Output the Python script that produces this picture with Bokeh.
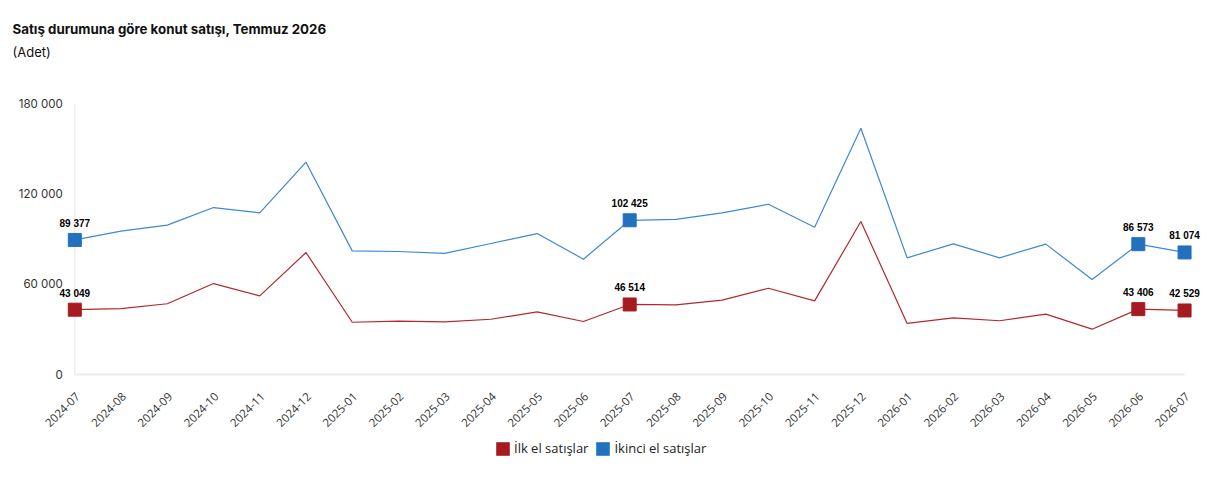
import math
from bokeh.plotting import figure
from bokeh.models import (ColumnDataSource, Range1d, Label, Legend, LegendItem,
                          LabelSet)
from bokeh.core.properties import value
from bokeh.embed import file_html
from bokeh.resources import INLINE

months = ["2024-07", "2024-08", "2024-09", "2024-10", "2024-11", "2024-12",
          "2025-01", "2025-02", "2025-03", "2025-04", "2025-05", "2025-06",
          "2025-07", "2025-08", "2025-09", "2025-10", "2025-11", "2025-12",
          "2026-01", "2026-02", "2026-03", "2026-04", "2026-05", "2026-06",
          "2026-07"]
ilk_el = [43049, 43800, 47000, 60400, 52200, 81000, 34700, 35400, 35000,
          36700, 41600, 35200, 46514, 46300, 49400, 57300, 48900, 101600,
          33900, 37600, 35700, 40100, 30100, 43406, 42529]
ikinci_el = [89377, 95200, 99200, 110900, 107400, 141000, 82100, 81700, 80400,
             87000, 93600, 76600, 102425, 103000, 107400, 113100, 97800, 163600,
             77500, 86800, 77500, 86600, 63100, 86573, 81074]
highlight = [0, 12, 23, 24]
y_ticks = [0, 60000, 120000, 180000]
y_tick_labels = ["0", "60 000", "120 000", "180 000"]

series_names = ["İlk el satışlar", "İkinci el satışlar"]
line_colors = ["#b3282d", "#3d89d2"]
marker_colors = ["#a51b1f", "#2271be"]

title_text = "Satış durumuna göre konut satışı, Temmuz 2026"
subtitle_text = "(Adet)"


def fmt(v):
    return f"{v:,}".replace(",", " ")


# ---- layout geometry (pixels) ----
W, H = 1217, 472
X0_PX, DX_PX = 74.3, 46.24          # pixel of first month, pixels per month
Y0_PX, YTOP_PX = 374.0, 103.0       # pixel of 0 and of the top tick
px_per_unit = (Y0_PX - YTOP_PX) / y_ticks[-1]

xs = list(range(len(months)))
x_range = Range1d(-X0_PX / DX_PX, (W - X0_PX) / DX_PX)
y_range = Range1d(-(H - Y0_PX) / px_per_unit, Y0_PX / px_per_unit)

p = figure(width=W, height=H, output_backend="svg", toolbar_location=None,
           x_range=x_range, y_range=y_range,
           x_axis_location=None, y_axis_location=None,
           min_border=0, min_border_left=0, min_border_right=0,
           min_border_top=0, min_border_bottom=0)
p.outline_line_color = None
p.grid.visible = False
p.background_fill_color = "white"
p.border_fill_color = "white"

# titles
p.add_layout(Label(x=12, y=H - 28.5, x_units="screen", y_units="screen",
                   text=title_text, text_font="Inter", text_font_size="13.3px",
                   text_font_style="bold", text_color="#111111",
                   text_baseline="alphabetic"))
p.add_layout(Label(x=12, y=H - 51.5, x_units="screen", y_units="screen",
                   text=subtitle_text, text_font="Inter", text_font_size="13px",
                   text_color="#111111", text_baseline="alphabetic"))

# axis rules
p.segment(x0=[xs[0]], y0=[y_ticks[0]], x1=[xs[0]], y1=[y_ticks[-1]],
          line_color="#e6e6e6", line_width=1)
p.segment(x0=[xs[0]], y0=[y_ticks[0]], x1=[xs[-1]], y1=[y_ticks[0]],
          line_color="#ebebeb", line_width=2)

# y tick labels
ysrc = ColumnDataSource(dict(x=[xs[0]] * len(y_ticks), y=y_ticks,
                             t=y_tick_labels))
p.add_layout(LabelSet(x="x", y="y", text="t", source=ysrc, x_offset=-12,
                      text_align="right", text_baseline="middle",
                      text_font=value("Inter"), text_font_size="11.5px",
                      text_color="#333333"))

# x tick labels
xsrc = ColumnDataSource(dict(x=xs, y=[y_ticks[0]] * len(xs), t=months))
p.add_layout(LabelSet(x="x", y="y", text="t", source=xsrc, angle=math.pi / 4,
                      x_offset=3, y_offset=-20, text_align="right",
                      text_baseline="middle", text_font=value("Open Sans"),
                      text_font_size="11.5px", text_color="#333333"))

items = []
for name, vals, lc, mc in zip(series_names, [ilk_el, ikinci_el],
                              line_colors, marker_colors):
    src = ColumnDataSource(dict(x=xs, y=vals))
    p.line("x", "y", source=src, line_color=lc, line_width=1.2)
    hx = [xs[i] for i in highlight]
    hy = [vals[i] for i in highlight]
    hsrc = ColumnDataSource(dict(x=hx, y=hy, t=[fmt(v) for v in hy]))
    p.scatter("x", "y", source=hsrc, marker="square", size=13,
              fill_color=mc, line_color=mc)
    p.add_layout(LabelSet(x="x", y="y", text="t", source=hsrc,
                          text_align="center", text_baseline="bottom",
                          y_offset=11, text_font=value("Liberation Sans"),
                          text_font_style="bold", text_font_size="10px",
                          text_color="#000000"))
    # legend swatch: zero-area quad (invisible on the plot) so the legend
    # draws a filled square box
    lsrc = ColumnDataSource(dict(left=[hx[0]], right=[hx[0]],
                                 top=[hy[0]], bottom=[hy[0]]))
    sw = p.quad(left="left", right="right", top="top", bottom="bottom",
                source=lsrc, fill_color=mc, line_color=None)
    items.append(LegendItem(label=name, renderers=[sw]))

legend = Legend(items=items, orientation="horizontal",
                location=(494, H - 457),
                label_text_font="Open Sans", label_text_font_size="13px",
                label_text_color="#222222", border_line_color=None,
                background_fill_alpha=0, glyph_width=17, glyph_height=17,
                label_standoff=3, spacing=6, margin=0, padding=0,
                label_height=17)
p.add_layout(legend)

open("out.html", "w").write(file_html(p, INLINE))
